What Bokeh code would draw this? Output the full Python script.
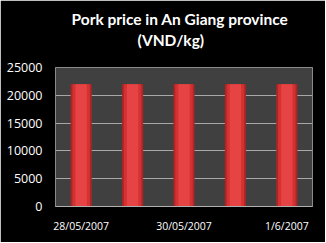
from bokeh.plotting import figure
from bokeh.models import Range1d, FixedTicker, Title
from bokeh.embed import file_html
from bokeh.resources import INLINE

dates = ["28/05/2007", "29/05/2007", "30/05/2007", "31/05/2007", "1/6/2007"]
prices = [22000, 22000, 22000, 22000, 22000]
shown_labels = ["28/05/2007", "30/05/2007", "1/6/2007"]
y_ticks = [0, 5000, 10000, 15000, 20000, 25000]
title_main = "Pork price in An Giang province"
title_unit = "(VND/kg)"

xs = [i + 0.5 for i in range(len(dates))]
label_pos = [xs[dates.index(d)] for d in shown_labels]

p = figure(width=325, height=242, x_range=Range1d(0, len(dates)), y_range=Range1d(0, 25000),
           output_backend="svg", toolbar_location=None,
           background_fill_color="#404040", border_fill_color="black",
           min_border_left=55, min_border_right=13, min_border_top=67, min_border_bottom=36)

p.title.visible = False
title_style = dict(align="left", text_color="white", text_font="Lato",
                   text_font_style="bold", text_font_size="15.5px", text_line_height=0.85)
# spacer nearest the plot area, then the unit line, then the main line
p.add_layout(Title(text=" ", text_font_size="1px", standoff=15, text_color="black"), "above")
p.add_layout(Title(text=title_unit, offset=82, standoff=2, **title_style), "above")
p.add_layout(Title(text=title_main, offset=16, standoff=0, **title_style), "above")

p.outline_line_color = "#8a8a8a"
p.outline_line_width = 1

p.xgrid.grid_line_color = None
p.ygrid.grid_line_color = "#a8a8a8"
p.ygrid.grid_line_width = 1

p.yaxis.ticker = FixedTicker(ticks=y_ticks)
p.yaxis.major_tick_line_color = None
p.yaxis.minor_tick_line_color = None
p.yaxis.axis_line_color = None
p.yaxis.major_label_text_color = "white"
p.yaxis.major_label_text_font = "Open Sans"
p.yaxis.major_label_text_font_size = "12.5px"
p.yaxis.major_label_standoff = 7

p.xaxis.ticker = FixedTicker(ticks=label_pos)
p.xaxis.major_label_overrides = {x: d for x, d in zip(label_pos, shown_labels)}
p.xaxis.major_tick_line_color = None
p.xaxis.minor_tick_line_color = None
p.xaxis.axis_line_color = "#b0b0b0"
p.xaxis.major_label_text_color = "white"
p.xaxis.major_label_text_font = "Open Sans"
p.xaxis.major_label_text_font_size = "10.5px"
p.xaxis.major_label_standoff = 6

p.vbar(x=xs, top=prices, width=0.41, fill_color="#b02424", line_color=None)
p.vbar(x=xs, top=prices, width=0.34, fill_color="#d43232", line_color=None)
p.vbar(x=xs, top=prices, width=0.22, fill_color="#e64444", line_color=None)

open("out.html", "w").write(file_html(p, INLINE))
